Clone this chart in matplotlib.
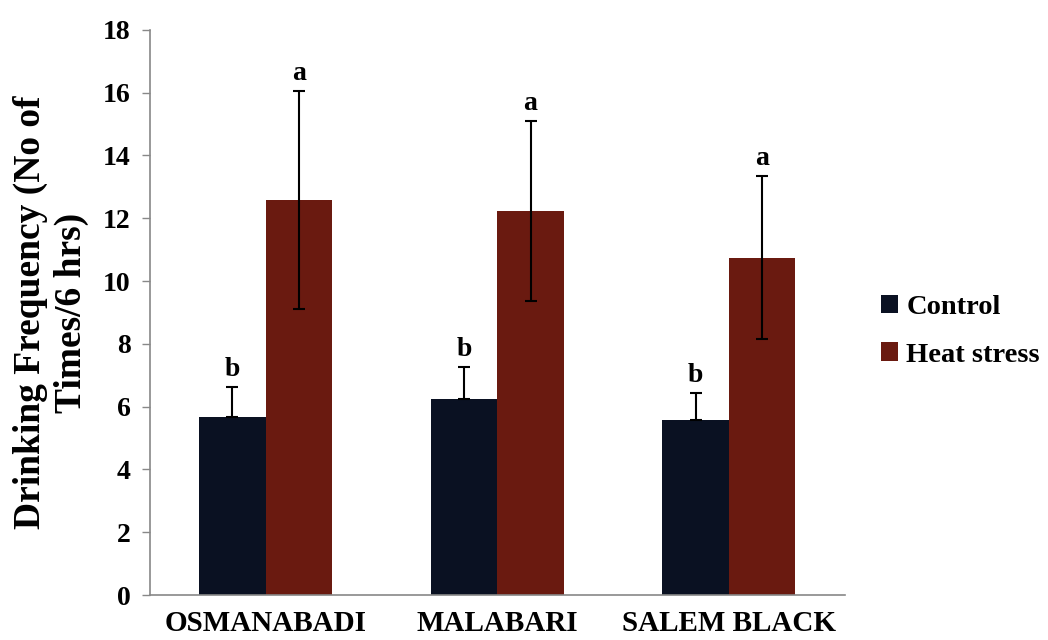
import numpy as np
import matplotlib.pyplot as plt

breeds = ['OSMANABADI', 'MALABARI', 'SALEM BLACK']
control = [5.67, 6.23, 5.57]
control_err = [0.95, 1.03, 0.88]
heat = [12.58, 12.23, 10.75]
heat_err = [3.47, 2.87, 2.6]
control_sig = ['b', 'b', 'b']
heat_sig = ['a', 'a', 'a']

plt.rcParams['font.family'] = ['Liberation Serif', 'DejaVu Serif']
plt.rcParams['font.weight'] = 'bold'

fig = plt.figure(figsize=(10.48, 6.4), dpi=100)
ax = fig.add_axes([0.143, 0.0703, 0.663, 0.883])

x = np.arange(len(breeds))
w = 0.287
c_ctrl = '#0a1122'
c_heat = '#6a1a10'

ax.bar(x - w/2, control, w, color=c_ctrl, label='Control')
ax.bar(x + w/2, heat, w, color=c_heat, label='Heat stress')
# control whiskers: only the upper half shows against the dark bar
ax.errorbar(x - w/2, control, yerr=[np.zeros(len(control)), control_err],
            fmt='none', ecolor='black', elinewidth=1.5, capsize=4.5, capthick=1.5)
ax.errorbar(x + w/2, heat, yerr=heat_err, fmt='none', ecolor='black',
            elinewidth=1.5, capsize=4.5, capthick=1.5)

for i in range(len(breeds)):
    ax.text(x[i] - w/2, control[i] + control_err[i] + 0.15, control_sig[i],
            ha='center', va='bottom', fontsize=20, fontweight='bold')
    ax.text(x[i] + w/2, heat[i] + heat_err[i] + 0.15, heat_sig[i],
            ha='center', va='bottom', fontsize=20, fontweight='bold')

ax.set_xlim(-0.5, 2.5)
ax.set_ylim(0, 18)
ax.set_yticks(np.arange(0, 19, 2))
ax.set_xticks(x)
ax.set_xticklabels(breeds, fontsize=21, fontweight='bold')
ax.tick_params(axis='y', labelsize=20, color='#888888', length=6, width=1, pad=8)
ax.tick_params(axis='x', length=0, pad=11)
for lbl in ax.get_yticklabels():
    lbl.set_fontweight('bold')

for s in ['top', 'right']:
    ax.spines[s].set_visible(False)
for s in ['left', 'bottom']:
    ax.spines[s].set_color('#888888')
    ax.spines[s].set_linewidth(1.2)

ax.set_ylabel('Drinking Frequency (No of\nTimes/6 hrs)', fontsize=27,
              fontweight='bold', linespacing=1.2, labelpad=10)

ax.legend(loc='center left', bbox_to_anchor=(1.015, 0.467), frameon=False,
          handlelength=0.6, handleheight=0.6, handletextpad=0.3,
          labelspacing=0.8, prop={'weight': 'bold', 'size': 20.5})

fig.savefig('out.png', dpi=100)
